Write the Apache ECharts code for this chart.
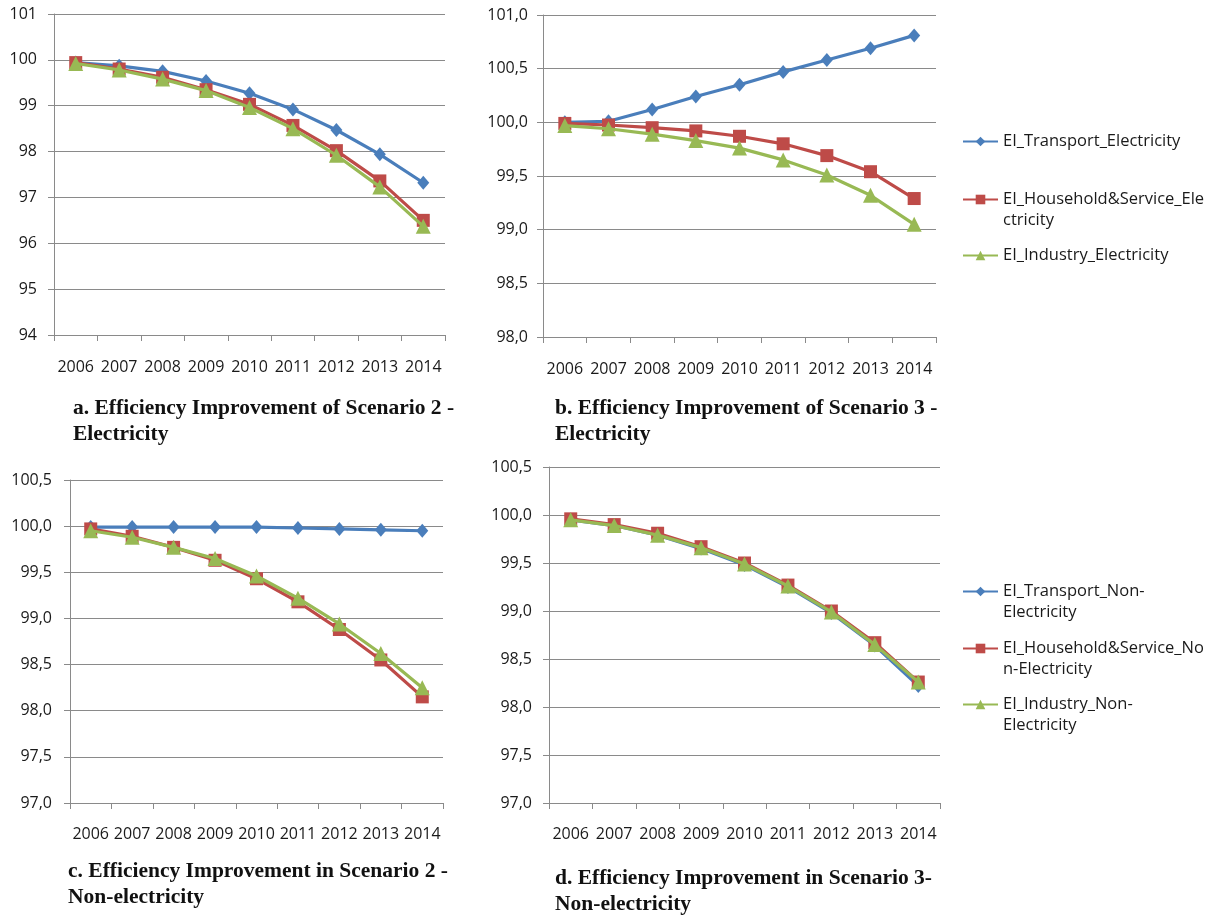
<!DOCTYPE html>
<html>
<head>
<meta charset="utf-8">
<script src="https://cdn.jsdelivr.net/npm/echarts@6/dist/echarts.min.js"></script>
<style>
html,body{margin:0;padding:0;background:#fff;}
#c{width:1220px;height:915px;}
</style>
</head>
<body>
<div id="c"></div>
<script>
// ---------- DATA ----------
var years = ['2006','2007','2008','2009','2010','2011','2012','2013','2014'];

var namesElec = ['EI_Transport_Electricity','EI_Household&Service_Electricity','EI_Industry_Electricity'];
var namesNon = ['EI_Transport_Non-Electricity','EI_Household&Service_Non-Electricity','EI_Industry_Non-Electricity'];

// a. Scenario 2 - Electricity
var aTransport = [99.94, 99.87, 99.75, 99.54, 99.27, 98.92, 98.47, 97.94, 97.32];
var aHousehold = [99.94, 99.80, 99.62, 99.35, 99.03, 98.57, 98.02, 97.36, 96.50];
var aIndustry  = [99.92, 99.78, 99.58, 99.33, 98.96, 98.50, 97.92, 97.23, 96.37];

// b. Scenario 3 - Electricity
var bTransport = [100.00, 100.01, 100.12, 100.24, 100.35, 100.47, 100.58, 100.69, 100.81];
var bHousehold = [99.99, 99.975, 99.95, 99.92, 99.87, 99.80, 99.69, 99.54, 99.29];
var bIndustry  = [99.97, 99.94, 99.89, 99.83, 99.76, 99.65, 99.51, 99.32, 99.05];

// c. Scenario 2 - Non-electricity
var cTransport = [99.99, 99.99, 99.99, 99.99, 99.99, 99.98, 99.97, 99.96, 99.95];
var cHousehold = [99.97, 99.89, 99.77, 99.63, 99.43, 99.18, 98.88, 98.55, 98.15];
var cIndustry  = [99.95, 99.88, 99.77, 99.65, 99.46, 99.22, 98.94, 98.62, 98.25];

// d. Scenario 3 - Non-electricity
var dTransport = [99.95, 99.89, 99.79, 99.65, 99.48, 99.25, 98.98, 98.64, 98.22];
var dHousehold = [99.96, 99.90, 99.81, 99.67, 99.50, 99.27, 99.00, 98.67, 98.26];
var dIndustry  = [99.95, 99.89, 99.79, 99.66, 99.49, 99.26, 98.99, 98.65, 98.26];

// y-axis ranges
var yRanges = [
  {min: 94, max: 101, interval: 1, dec: 0},
  {min: 98, max: 101, interval: 0.5, dec: 1},
  {min: 97, max: 100.5, interval: 0.5, dec: 1},
  {min: 97, max: 100.5, interval: 0.5, dec: 1}
];

var titles = [
  'a. Efficiency Improvement of Scenario 2 -\nElectricity',
  'b. Efficiency Improvement of Scenario 3 -\nElectricity',
  'c. Efficiency Improvement in Scenario 2 -\nNon-electricity',
  'd. Efficiency Improvement in Scenario 3-\nNon-electricity'
];

// legend text as wrapped in the original (first line / continuation)
var legendLines = {
  'EI_Transport_Electricity': ['EI_Transport_Electricity', ''],
  'EI_Household&Service_Electricity': ['EI_Household&Service_Ele', 'ctricity'],
  'EI_Industry_Electricity': ['EI_Industry_Electricity', ''],
  'EI_Transport_Non-Electricity': ['EI_Transport_Non-', 'Electricity'],
  'EI_Household&Service_Non-Electricity': ['EI_Household&Service_No', 'n-Electricity'],
  'EI_Industry_Non-Electricity': ['EI_Industry_Non-', 'Electricity']
};

// ---------- STYLE ----------
var colors = ['#4A7EBB', '#BE4B48', '#98B954'];
var symbols = ['diamond', 'rect', 'triangle'];
var symbolSizes = [[12, 14], 13, 15];
var gridColor = '#8a8a8a';
var labelFont = '"Open Sans", "Liberation Sans", sans-serif';

var grids = [
  {left: 54, top: 14, width: 391, height: 321},
  {left: 543, top: 15, width: 393, height: 322},
  {left: 70, top: 480, width: 373, height: 323},
  {left: 549, top: 467, width: 391, height: 336}
];
var yMargins = [17, 15, 18, 17];
var xMargins = [24, 24, 23, 23];

var xAxes = [], yAxes = [];
grids.forEach(function (g, i) {
  xAxes.push({
    type: 'category', gridIndex: i, data: years, boundaryGap: true,
    axisLine: {show: true, lineStyle: {color: gridColor, width: 1}},
    axisTick: {show: true, alignWithLabel: false, length: 6, lineStyle: {color: gridColor}},
    axisLabel: {margin: xMargins[i], color: '#1a1a1a', fontSize: 16, fontFamily: labelFont, interval: 0},
    splitLine: {show: false}
  });
  var r = yRanges[i];
  yAxes.push({
    type: 'value', gridIndex: i, min: r.min, max: r.max, interval: r.interval,
    axisLine: {show: true, lineStyle: {color: gridColor, width: 1}},
    axisTick: {show: true, length: 6, lineStyle: {color: gridColor}},
    axisLabel: {
      margin: yMargins[i], color: '#1a1a1a', fontSize: 16, fontFamily: labelFont,
      formatter: (function (dec) { return function (v) { return v.toFixed(dec).replace('.', ','); }; })(r.dec)
    },
    splitLine: {show: true, lineStyle: {color: gridColor, width: 1}}
  });
});

var seriesData = [
  [aTransport, aHousehold, aIndustry],
  [bTransport, bHousehold, bIndustry],
  [cTransport, cHousehold, cIndustry],
  [dTransport, dHousehold, dIndustry]
];
var series = [];
seriesData.forEach(function (set, gi) {
  var names = gi < 2 ? namesElec : namesNon;
  set.forEach(function (vals, si) {
    series.push({
      type: 'line', name: names[si], xAxisIndex: gi, yAxisIndex: gi,
      data: vals, symbol: symbols[si], symbolSize: symbolSizes[si],
      showAllSymbol: true, smooth: false,
      lineStyle: {color: colors[si], width: 3.2},
      itemStyle: {color: colors[si]},
      animation: false, z: 2 + si
    });
  });
});

var legendFontSize = 16.5;
var legendLeft = 962;
var legendTextX = 1003;
var legendTops = [139, 197, 253, 589, 646, 702]; // centre of first text line
var legendNames = namesElec.concat(namesNon);
var legends = legendNames.map(function (n, i) {
  return {
    data: [n], left: legendLeft, top: legendTops[i] - 6,
    itemWidth: 35, itemHeight: 12, itemGap: 0, padding: 0,
    selectedMode: false,
    formatter: function (nm) { return legendLines[nm][0]; },
    textStyle: {fontSize: legendFontSize, fontFamily: labelFont, color: '#1a1a1a', padding: [0, 0, 0, 0]}
  };
});
var graphics = [];
legendNames.forEach(function (n, i) {
  var second = legendLines[n][1];
  if (second) {
    graphics.push({
      type: 'text', left: legendTextX, top: legendTops[i] + 15,
      style: {text: second, fontSize: legendFontSize, fontFamily: labelFont, fill: '#1a1a1a'}
    });
  }
});

var titlePos = [
  {left: 73, top: 395},
  {left: 555, top: 395},
  {left: 68, top: 858},
  {left: 555, top: 865}
];
var titleComps = titles.map(function (t, i) {
  return {
    text: t, left: titlePos[i].left, top: titlePos[i].top, padding: 0,
    textStyle: {fontFamily: '"Liberation Serif", "DejaVu Serif", serif', fontWeight: 'bold', fontSize: 21.5, lineHeight: 26, color: '#111'}
  };
});

var chart = echarts.init(document.getElementById('c'), null, {renderer: 'canvas'});
chart.setOption({
  animation: false,
  backgroundColor: '#ffffff',
  title: titleComps,
  legend: legends,
  graphic: graphics,
  grid: grids,
  xAxis: xAxes,
  yAxis: yAxes,
  series: series
});
</script>
</body>
</html>
